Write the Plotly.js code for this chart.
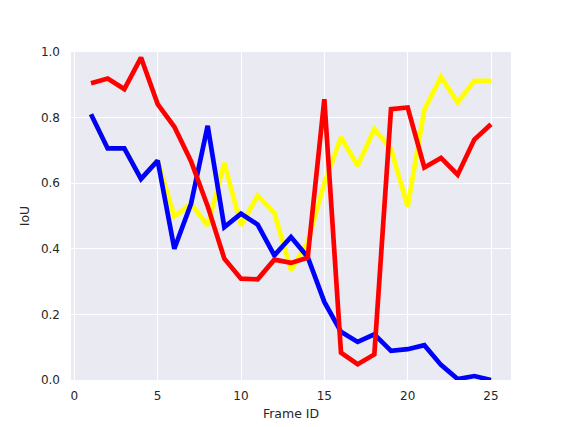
<!DOCTYPE html>
<html>
<head>
<meta charset="utf-8">
<script src="https://cdn.plot.ly/plotly-3.0.1.min.js"></script>
<style>html,body{margin:0;padding:0;background:#fff;}#chart{width:562px;height:427px;}</style>
</head>
<body>
<div id="chart"></div>
<script>
const frames = [1,2,3,4,5,6,7,8,9,10,11,12,13,14,15,16,17,18,19,20,21,22,23,24,25];
const yellowSeries = [0.81,0.706,0.706,0.613,0.669,0.498,0.537,0.471,0.662,0.471,0.562,0.509,0.335,0.42,0.60,0.74,0.653,0.765,0.704,0.529,0.824,0.924,0.846,0.912,0.912];
const blueSeries = [0.81,0.706,0.706,0.613,0.669,0.40,0.537,0.775,0.466,0.507,0.474,0.38,0.436,0.375,0.238,0.147,0.116,0.139,0.089,0.094,0.106,0.046,0.003,0.012,0.0];
const redSeries = [0.905,0.919,0.887,0.983,0.841,0.772,0.667,0.53,0.37,0.309,0.307,0.367,0.357,0.373,0.856,0.083,0.048,0.078,0.826,0.831,0.648,0.677,0.626,0.733,0.78];
const xTicks = [0,5,10,15,20,25];
const yTicks = [0.0,0.2,0.4,0.6,0.8,1.0];
const yTickText = ['0.0','0.2','0.4','0.6','0.8','1.0'];

const lw = 4.7;
const traces = [
  {x: frames, y: yellowSeries, mode: 'lines', line: {color: '#FFFF00', width: lw}, name: 'yellow'},
  {x: frames, y: blueSeries, mode: 'lines', line: {color: '#0000FF', width: lw}, name: 'blue'},
  {x: frames, y: redSeries, mode: 'lines', line: {color: '#FF0000', width: lw}, name: 'red'}
];
const fontFam = 'DejaVu Sans, sans-serif';
const layout = {
  width: 562, height: 427,
  margin: {l: 71, r: 51, t: 52, b: 47, pad: 0},
  paper_bgcolor: '#ffffff',
  plot_bgcolor: '#EAEAF2',
  showlegend: false,
  font: {family: fontFam, size: 12, color: '#262626'},
  xaxis: {
    range: [-0.2, 26.2],
    tickvals: xTicks,
    ticktext: xTicks.map(String),
    showgrid: true, gridcolor: '#ffffff', gridwidth: 1,
    zeroline: false, showline: false, ticks: '',
    ticklabelstandoff: 7,
    tickfont: {family: fontFam, size: 12, color: '#262626'},
    title: {text: 'Frame ID', font: {family: fontFam, size: 12.5, color: '#262626'}, standoff: 7}
  },
  yaxis: {
    range: [0, 1.0],
    tickvals: yTicks,
    ticktext: yTickText,
    showgrid: true, gridcolor: '#ffffff', gridwidth: 1,
    zeroline: false, showline: false, ticks: '',
    ticklabelstandoff: 10,
    tickfont: {family: fontFam, size: 12, color: '#262626'},
    title: {text: 'IoU', font: {family: fontFam, size: 12.5, color: '#262626'}, standoff: 8}
  }
};
Plotly.newPlot('chart', traces, layout, {displayModeBar: false, staticPlot: true});
</script>
</body>
</html>
